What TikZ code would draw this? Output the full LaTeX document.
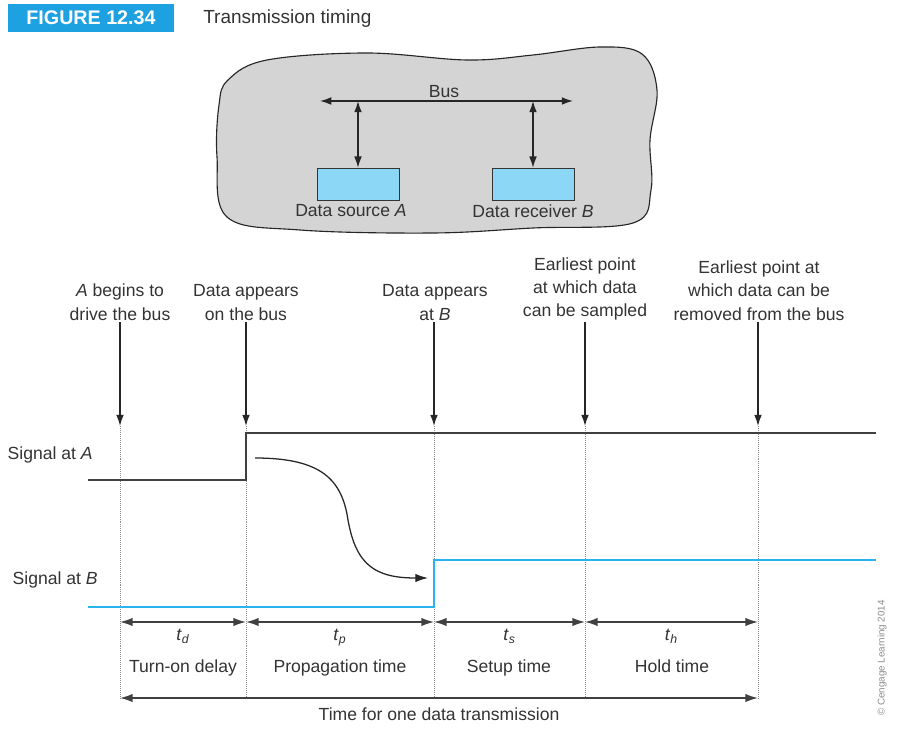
\documentclass[tikz,border=0pt]{standalone}
\usepackage{fontspec}
\setmainfont{Liberation Sans}
\usetikzlibrary{positioning,calc,arrows.meta}
\definecolor{figblue}{HTML}{1DA1E0}
\definecolor{unitblue}{HTML}{8CD6F6}
\definecolor{sigblue}{HTML}{2AB4EE}
\definecolor{blobgray}{HTML}{D4D4D4}
\definecolor{inkgray}{HTML}{333333}
\tikzset{
    % Texte
    lbl/.style={font=\fontsize{12.5}{16.5}\selectfont, text=inkgray, align=center, inner sep=1pt},
    % Unita' sul bus
    unit/.style={draw=black!80, fill=unitblue, minimum width=2.05cm, minimum height=0.8cm, inner sep=0pt},
    % Frecce
    tip/.style={-{Latex[length=8pt,width=5.5pt]}, black!85, line width=0.9pt},
    twotip/.style={{Latex[length=8pt,width=5.5pt]}-{Latex[length=8pt,width=5.5pt]}, black!85, line width=0.9pt},
    dimline/.style={{Latex[length=9pt,width=6pt]}-{Latex[length=9pt,width=6pt]}, black!75, line width=1.1pt},
    guide/.style={densely dotted, black!45, thin},
    sigA/.style={line width=1.3pt, black!75},
    sigB/.style={line width=1.3pt, sigblue}
}
\begin{document}
\begin{tikzpicture}[x=0.025cm,y=-0.025cm]
    \useasboundingbox (0,0) rectangle (898,728);

    % Title
    \node[fill=figblue, text=white, font=\bfseries\fontsize{14}{14}\selectfont,
          minimum width=4.15cm, minimum height=0.68cm, inner sep=0pt] (fig) at (91,18) {FIGURE 12.34};
    \node[anchor=west, text=inkgray, font=\fontsize{13.5}{14}\selectfont, inner sep=0pt] (title) at (203,19) {Transmission timing};

    % Bus system
    \draw[black!85, fill=blobgray, line width=0.8pt] plot[smooth cycle, tension=0.6] coordinates {
        (228,80) (267,60) (367,53) (467,60) (533,55) (600,47) (642,54) (657,90)
        (650,140) (651,190) (633,223) (533,228) (433,233) (300,230) (227,217) (217,157) (219,105)};
    \coordinate (busL) at (320,101);
    \coordinate (busR) at (573,101);
    \draw[twotip] (busL) -- (busR);
    \node[lbl, above=1pt] (bus) at ($(busL)!0.49!(busR)$) {Bus};
    \node[unit] (src) at (358,184) {};
    \node[unit] (rcv) at (533,184) {};
    \coordinate (tapA) at (src.north |- busL);
    \coordinate (tapB) at (rcv.north |- busL);
    \draw[twotip] (tapA) -- (src.north);
    \draw[twotip] (tapB) -- (rcv.north);
    \node[lbl, below=2pt of src, xshift=-5pt] (srclbl) {Data source \textit{A}};
    \node[lbl, below=2pt of rcv] (rcvlbl) {Data receiver \textit{B}};

    % Events
    \node[lbl, anchor=south] (evA) at (120,322) {\textit{A} begins to\\drive the bus};
    \node[lbl, anchor=south] (evB) at (246,322) {Data appears\\on the bus};
    \node[lbl, anchor=south] (evC) at (435,322) {Data appears\\at \textit{B}};
    \node[lbl, anchor=south] (evD) at (585,322) {Earliest point\\at which data\\can be sampled};
    \node[lbl, anchor=south] (evE) at (759,322) {Earliest point at\\which data can be\\removed from the bus};
    \coordinate (hitA) at (120,426);
    \coordinate (hitB) at (246,426);
    \coordinate (hitC) at (434,426);
    \coordinate (hitD) at (585,426);
    \coordinate (hitE) at (758,426);
    \draw[tip] (evA.south) -- (hitA);
    \draw[tip] (evB.south) -- (hitB);
    \draw[tip] ($(evC.south)+(-1,0)$) -- (hitC);
    \draw[tip] (evD.south) -- (hitD);
    \draw[tip] ($(evE.south)+(-1,0)$) -- (hitE);

    % Guides
    \coordinate (dA) at (120,622);
    \coordinate (dB) at (246,622);
    \coordinate (dC) at (434,622);
    \coordinate (dD) at (585,622);
    \coordinate (dE) at (758,622);
    \coordinate (eA) at (120,698);
    \coordinate (eE) at (758,698);
    \draw[guide] (hitA) -- (eA);
    \draw[guide] (hitB) -- (hitB |- eA);
    \draw[guide] (hitC) -- (hitC |- eA);
    \draw[guide] (hitD) -- (hitD |- eA);
    \draw[guide] (hitE) -- (eE);

    % Signals
    \node[lbl, anchor=west] (sAlbl) at (6,455) {Signal at \textit{A}};
    \node[lbl, anchor=west] (sBlbl) at (11,580) {Signal at \textit{B}};
    \draw[sigA] (88,480) -- (246,480) -- (246,433) -- (876,433);
    \draw[sigB] (88,607) -- (434,607) -- (434,560) -- (876,560);
    \draw[-{Latex[length=9pt,width=6pt]}, black!85, line width=0.9pt] (255,458)
        .. controls (322,458) and (342,480) .. (348,520)
        .. controls (356,565) and (375,578) .. (428,578);

    % Intervals
    \draw[dimline] (dA) -- (dB);
    \draw[dimline] (dB) -- (dC);
    \draw[dimline] (dC) -- (dD);
    \draw[dimline] (dD) -- (dE);
    \draw[dimline] (eA) -- (eE);
    \node[lbl, below=4pt] (td) at ($(dA)!0.5!(dB)$) {\textit{t}\textsubscript{\textit{d}}};
    \node[lbl, below=4pt] (tp) at ($(dB)!0.5!(dC)$) {\textit{t}\textsubscript{\textit{p}}};
    \node[lbl, below=4pt] (ts) at ($(dC)!0.5!(dD)$) {\textit{t}\textsubscript{\textit{s}}};
    \node[lbl, below=4pt] (th) at ($(dD)!0.5!(dE)$) {\textit{t}\textsubscript{\textit{h}}};
    \node[lbl, anchor=base] (tdtxt) at (183,672) {Turn-on delay};
    \node[lbl, anchor=base] (tptxt) at (340,672) {Propagation time};
    \node[lbl, anchor=base] (tstxt) at (509,672) {Setup time};
    \node[lbl, anchor=base] (thtxt) at (672,672) {Hold time};
    \node[lbl] (total) at (439,714) {Time for one data transmission};

    % Credit
    \node[rotate=90, text=black!45, font=\fontsize{7}{8}\selectfont, inner sep=0pt] (credit) at (882,658) {\textcopyright{} Cengage Learning 2014};
\end{tikzpicture}
\end{document}
